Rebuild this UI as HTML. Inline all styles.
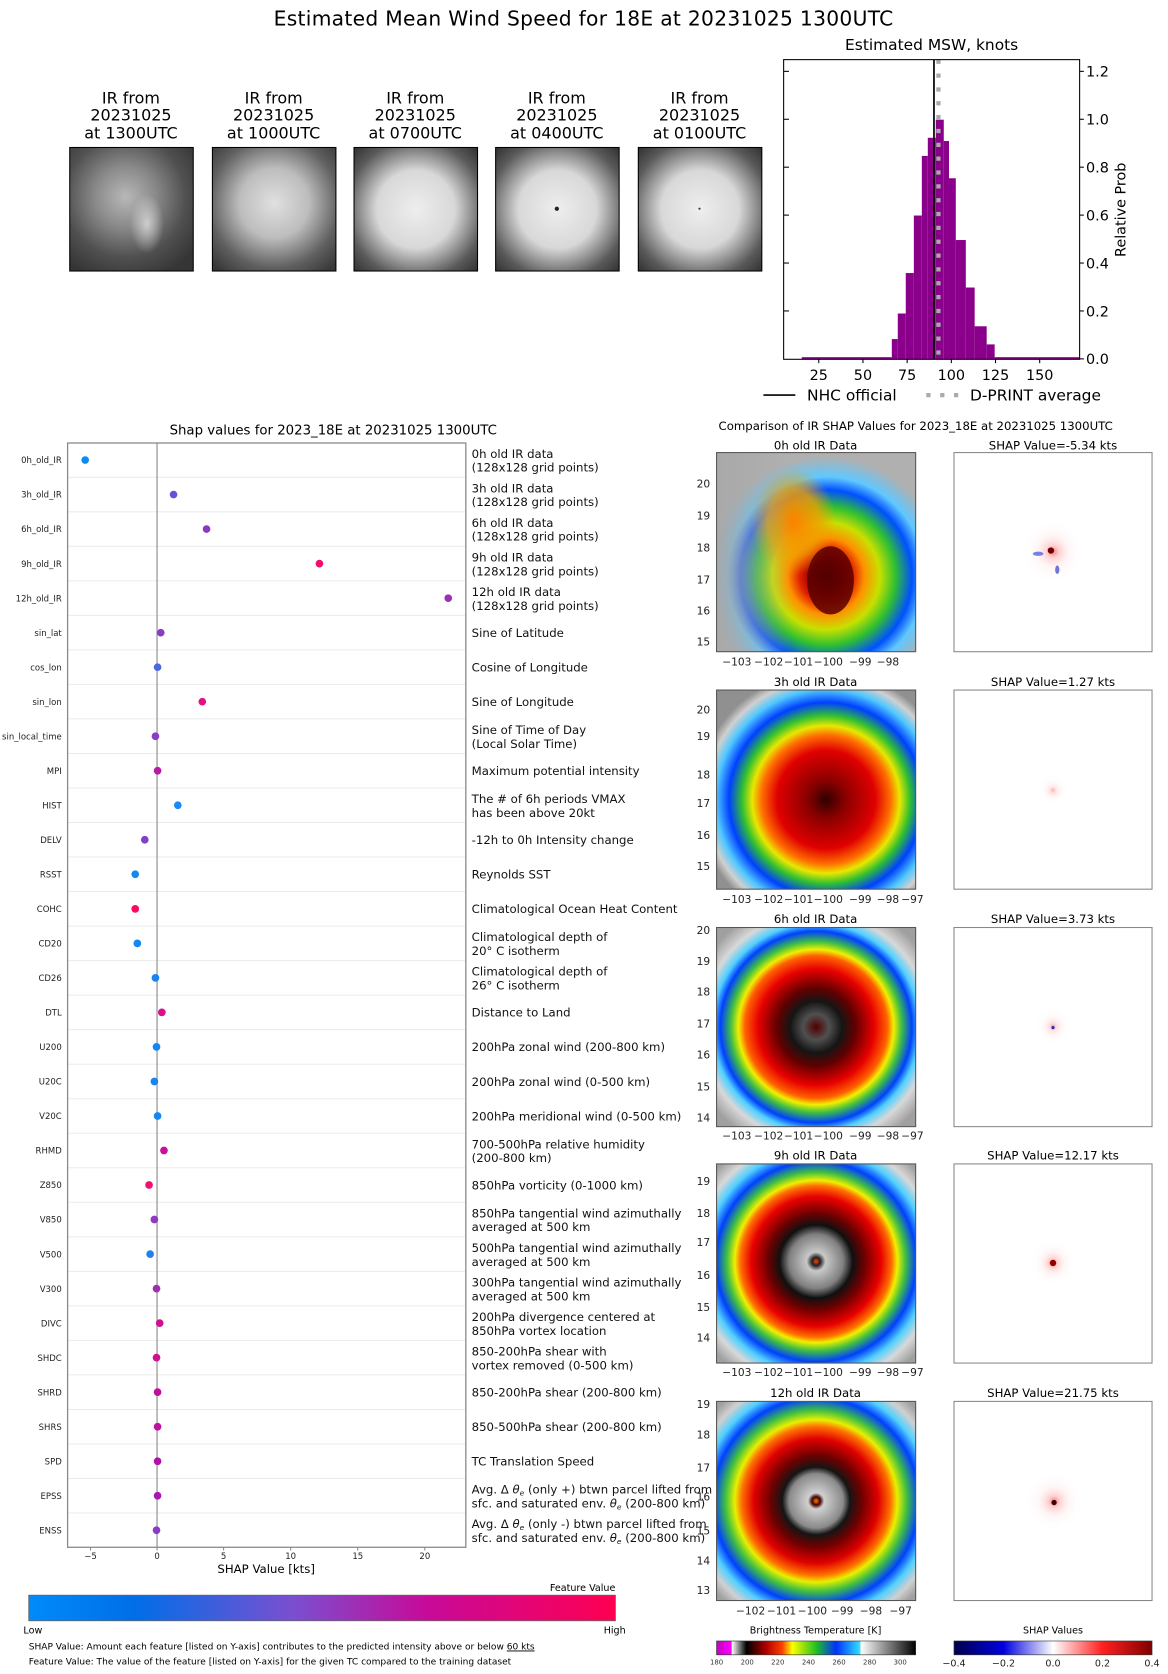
<!DOCTYPE html>
<html><head><meta charset="utf-8"><style>
html,body{margin:0;padding:0;background:#fff;}
svg{display:block;font-family:"DejaVu Sans","Liberation Sans",sans-serif;}
</style></head><body>
<svg width="1168" height="1674" viewBox="0 0 1097 1572" preserveAspectRatio="none" xmlns="http://www.w3.org/2000/svg">
<defs>
<radialGradient id="th1" cx="0.45" cy="0.4" r="0.7"><stop offset="0" stop-color="#b8b8b8"/><stop offset="0.35" stop-color="#8a8a8a"/><stop offset="0.7" stop-color="#505050"/><stop offset="1" stop-color="#353535"/></radialGradient>
<radialGradient id="th2" cx="0.5" cy="0.45" r="0.7"><stop offset="0" stop-color="#e0e0e0"/><stop offset="0.4" stop-color="#bdbdbd"/><stop offset="0.75" stop-color="#606060"/><stop offset="1" stop-color="#383838"/></radialGradient>
<radialGradient id="th3" cx="0.5" cy="0.5" r="0.7"><stop offset="0" stop-color="#eeeeee"/><stop offset="0.45" stop-color="#d8d8d8"/><stop offset="0.8" stop-color="#5a5a5a"/><stop offset="1" stop-color="#333"/></radialGradient>
<radialGradient id="blob" cx="0.5" cy="0.5" r="0.5"><stop offset="0" stop-color="#e0e0e0" stop-opacity="0.8"/><stop offset="1" stop-color="#e0e0e0" stop-opacity="0"/></radialGradient>
<radialGradient id="g0" cx="0.55" cy="0.62" r="0.6"><stop offset="0" stop-color="#200000"/><stop offset="0.12" stop-color="#8b0000"/><stop offset="0.22" stop-color="#e02000"/><stop offset="0.32" stop-color="#ff9000"/><stop offset="0.45" stop-color="#c8e000"/><stop offset="0.58" stop-color="#30c030"/><stop offset="0.72" stop-color="#0050ff"/><stop offset="0.83" stop-color="#60c8ff"/><stop offset="1" stop-color="#b0b0b0"/></radialGradient>
<radialGradient id="g0b" cx="0.5" cy="0.5" r="0.5"><stop offset="0" stop-color="#ff8000"/><stop offset="0.6" stop-color="#f0a000" stop-opacity="0.8"/><stop offset="1" stop-color="#f0a000" stop-opacity="0"/></radialGradient>
<linearGradient id="g0l" x1="0" x2="1"><stop offset="0" stop-color="#a8a8a8" stop-opacity="0.9"/><stop offset="1" stop-color="#a8a8a8" stop-opacity="0"/></linearGradient>
<radialGradient id="g3" cx="0.55" cy="0.55" r="0.65"><stop offset="0" stop-color="#300000"/><stop offset="0.15" stop-color="#8b0000"/><stop offset="0.38" stop-color="#e00000"/><stop offset="0.5" stop-color="#ff7000"/><stop offset="0.57" stop-color="#e8e800"/><stop offset="0.65" stop-color="#30c030"/><stop offset="0.75" stop-color="#0040ff"/><stop offset="0.85" stop-color="#50c8ff"/><stop offset="0.93" stop-color="#d0d0d0"/><stop offset="1" stop-color="#909090"/></radialGradient>
<radialGradient id="g6" cx="0.5" cy="0.5" r="0.65"><stop offset="0" stop-color="#500000"/><stop offset="0.1" stop-color="#505050"/><stop offset="0.2" stop-color="#151515"/><stop offset="0.3" stop-color="#600000"/><stop offset="0.45" stop-color="#e80000"/><stop offset="0.55" stop-color="#ff6000"/><stop offset="0.6" stop-color="#f0f000"/><stop offset="0.66" stop-color="#40c040"/><stop offset="0.74" stop-color="#0040ff"/><stop offset="0.8" stop-color="#50d0ff"/><stop offset="0.88" stop-color="#d8d8d8"/><stop offset="1" stop-color="#a0a0a0"/></radialGradient>
<radialGradient id="g9" cx="0.5" cy="0.49" r="0.68"><stop offset="0" stop-color="#ff4000"/><stop offset="0.03" stop-color="#202020"/><stop offset="0.07" stop-color="#c8c8c8"/><stop offset="0.2" stop-color="#808080"/><stop offset="0.27" stop-color="#101010"/><stop offset="0.36" stop-color="#700000"/><stop offset="0.48" stop-color="#e80000"/><stop offset="0.56" stop-color="#ff7000"/><stop offset="0.6" stop-color="#f0f000"/><stop offset="0.66" stop-color="#40c040"/><stop offset="0.74" stop-color="#0040ff"/><stop offset="0.82" stop-color="#50d0ff"/><stop offset="0.9" stop-color="#d8d8d8"/><stop offset="1" stop-color="#a0a0a0"/></radialGradient>
<radialGradient id="g12" cx="0.5" cy="0.5" r="0.68"><stop offset="0" stop-color="#ff8000"/><stop offset="0.03" stop-color="#400000"/><stop offset="0.06" stop-color="#d0d0d0"/><stop offset="0.2" stop-color="#8a8a8a"/><stop offset="0.25" stop-color="#151515"/><stop offset="0.34" stop-color="#700000"/><stop offset="0.46" stop-color="#e00000"/><stop offset="0.55" stop-color="#ff7000"/><stop offset="0.6" stop-color="#e8f000"/><stop offset="0.67" stop-color="#40c040"/><stop offset="0.76" stop-color="#0040ff"/><stop offset="0.84" stop-color="#50d0ff"/><stop offset="0.92" stop-color="#d0d0d0"/><stop offset="1" stop-color="#a0a0a0"/></radialGradient>
<radialGradient id="sh" cx="0.5" cy="0.5" r="0.5"><stop offset="0" stop-color="#e02020" stop-opacity="0.6"/><stop offset="0.2" stop-color="#ff8080" stop-opacity="0.35"/><stop offset="0.5" stop-color="#ffd0d0" stop-opacity="0.2"/><stop offset="1" stop-color="#fff" stop-opacity="0"/></radialGradient>
<linearGradient id="fv" x1="0" x2="1"><stop offset="0" stop-color="#008bfa"/><stop offset="0.18" stop-color="#006ee8"/><stop offset="0.45" stop-color="#7a4fd0"/><stop offset="0.68" stop-color="#c70a98"/><stop offset="1" stop-color="#ff0052"/></linearGradient>
<linearGradient id="bt" x1="0" x2="1"><stop offset="0" stop-color="#c000c0"/><stop offset="0.075" stop-color="#ff00ff"/><stop offset="0.077" stop-color="#ffffff"/><stop offset="0.15" stop-color="#000000"/><stop offset="0.25" stop-color="#b00000"/><stop offset="0.33" stop-color="#ff4000"/><stop offset="0.38" stop-color="#ffff00"/><stop offset="0.5" stop-color="#20c020"/><stop offset="0.6" stop-color="#0030ff"/><stop offset="0.72" stop-color="#30e0ff"/><stop offset="0.725" stop-color="#ffffff"/><stop offset="1" stop-color="#000000"/></linearGradient>
<linearGradient id="sc" x1="0" x2="1"><stop offset="0" stop-color="#00004a"/><stop offset="0.25" stop-color="#0000e0"/><stop offset="0.5" stop-color="#ffffff"/><stop offset="0.75" stop-color="#ff2020"/><stop offset="1" stop-color="#800000"/></linearGradient>
</defs>

<text x="548" y="24" font-size="19" text-anchor="middle" textLength="582">Estimated Mean Wind Speed for 18E at 20231025 1300UTC</text>

<g font-size="15" text-anchor="middle">
<text x="123" y="97">IR from</text><text x="123" y="113">20231025</text><text x="123" y="130">at 1300UTC</text>
<text x="257" y="97">IR from</text><text x="257" y="113">20231025</text><text x="257" y="130">at 1000UTC</text>
<text x="390" y="97">IR from</text><text x="390" y="113">20231025</text><text x="390" y="130">at 0700UTC</text>
<text x="523" y="97">IR from</text><text x="523" y="113">20231025</text><text x="523" y="130">at 0400UTC</text>
<text x="657" y="97">IR from</text><text x="657" y="113">20231025</text><text x="657" y="130">at 0100UTC</text>
</g>
<rect x="65.5" y="138.5" width="116" height="116" fill="url(#th1)" stroke="#000"/>
<ellipse cx="138" cy="210" rx="16" ry="28" fill="url(#blob)"/>
<rect x="199.5" y="138.5" width="116" height="116" fill="url(#th2)" stroke="#000"/>
<rect x="332.5" y="138.5" width="116" height="116" fill="url(#th3)" stroke="#000"/>
<rect x="465.5" y="138.5" width="116" height="116" fill="url(#th3)" stroke="#000"/>
<circle cx="523" cy="196" r="2" fill="#222"/>
<rect x="599.5" y="138.5" width="116" height="116" fill="url(#th3)" stroke="#000"/>
<circle cx="657" cy="196" r="1" fill="#333"/>

<text x="875" y="47" font-size="14.5" text-anchor="middle">Estimated MSW, knots</text>
<g fill="#8b008b">
<rect x="753" y="335.4" width="84.6" height="2"/>
<rect x="837.6" y="318.4" width="5.6" height="19"/>
<rect x="843.2" y="294.4" width="7.5" height="43"/>
<rect x="850.7" y="256.4" width="7.6" height="81"/>
<rect x="858.3" y="202.4" width="7.5" height="135"/>
<rect x="865.8" y="146.4" width="5.6" height="191"/>
<rect x="871.4" y="129.4" width="7.5" height="208"/>
<rect x="878.9" y="112.4" width="7.5" height="225"/>
<rect x="886.4" y="132.4" width="4.9" height="205"/>
<rect x="891.3" y="167.4" width="6.4" height="170"/>
<rect x="897.7" y="225.4" width="9.4" height="112"/>
<rect x="907.1" y="270" width="8.3" height="67.4"/>
<rect x="915.4" y="306.4" width="11.3" height="31"/>
<rect x="926.7" y="323.4" width="7.5" height="14"/>
<rect x="934.2" y="335.4" width="79.8" height="2"/>
</g>
<line x1="877.2" y1="56" x2="877.2" y2="337.4" stroke="#000" stroke-width="1.6"/>
<line x1="881.4" y1="56" x2="881.4" y2="337.4" stroke="#aaa" stroke-width="4" stroke-dasharray="4,9"/>
<rect x="736" y="56" width="278" height="281.4" fill="none" stroke="#000" stroke-width="1"/>
<g stroke="#000">
<line x1="736" y1="67" x2="741" y2="67"/><line x1="736" y1="112" x2="741" y2="112"/><line x1="736" y1="157" x2="741" y2="157"/><line x1="736" y1="202" x2="741" y2="202"/><line x1="736" y1="247" x2="741" y2="247"/><line x1="736" y1="292" x2="741" y2="292"/>
<line x1="1014" y1="67" x2="1018" y2="67"/><line x1="1014" y1="112" x2="1018" y2="112"/><line x1="1014" y1="157" x2="1018" y2="157"/><line x1="1014" y1="202" x2="1018" y2="202"/><line x1="1014" y1="247" x2="1018" y2="247"/><line x1="1014" y1="292" x2="1018" y2="292"/><line x1="1014" y1="337" x2="1018" y2="337"/>
<line x1="769" y1="337" x2="769" y2="341"/><line x1="810.5" y1="337" x2="810.5" y2="341"/><line x1="852" y1="337" x2="852" y2="341"/><line x1="893.5" y1="337" x2="893.5" y2="341"/><line x1="935" y1="337" x2="935" y2="341"/><line x1="976.5" y1="337" x2="976.5" y2="341"/>
</g>
<g font-size="13.5">
<text x="1020" y="342">0.0</text><text x="1020" y="297">0.2</text><text x="1020" y="252">0.4</text><text x="1020" y="207">0.6</text><text x="1020" y="162">0.8</text><text x="1020" y="117">1.0</text><text x="1020" y="72">1.2</text>
</g>
<g font-size="13.5" text-anchor="middle">
<text x="769" y="357">25</text><text x="810.5" y="357">50</text><text x="852" y="357">75</text><text x="893.5" y="357">100</text><text x="935" y="357">125</text><text x="976.5" y="357">150</text>
</g>
<text transform="translate(1057,197) rotate(-90)" font-size="13.5" text-anchor="middle">Relative Prob</text>
<line x1="717" y1="371" x2="747" y2="371" stroke="#000" stroke-width="1.6"/>
<text x="758" y="376" font-size="14.5">NHC official</text>
<line x1="870" y1="371" x2="901" y2="371" stroke="#aaa" stroke-width="4" stroke-dasharray="4,9"/>
<text x="911" y="376" font-size="14.5">D-PRINT average</text>

<text x="313" y="408" font-size="12.5" text-anchor="middle">Shap values for 2023_18E at 20231025 1300UTC</text>
<g stroke="#ebebeb" stroke-width="1">
<line x1="64" y1="448.2" x2="437" y2="448.2"/><line x1="64" y1="480.6" x2="437" y2="480.6"/><line x1="64" y1="513" x2="437" y2="513"/><line x1="64" y1="545.5" x2="437" y2="545.5"/><line x1="64" y1="577.9" x2="437" y2="577.9"/><line x1="64" y1="610.3" x2="437" y2="610.3"/><line x1="64" y1="642.7" x2="437" y2="642.7"/><line x1="64" y1="675.1" x2="437" y2="675.1"/><line x1="64" y1="707.6" x2="437" y2="707.6"/><line x1="64" y1="740" x2="437" y2="740"/><line x1="64" y1="772.4" x2="437" y2="772.4"/><line x1="64" y1="804.8" x2="437" y2="804.8"/><line x1="64" y1="837.2" x2="437" y2="837.2"/><line x1="64" y1="869.7" x2="437" y2="869.7"/><line x1="64" y1="902.1" x2="437" y2="902.1"/><line x1="64" y1="934.5" x2="437" y2="934.5"/><line x1="64" y1="966.9" x2="437" y2="966.9"/><line x1="64" y1="999.4" x2="437" y2="999.4"/><line x1="64" y1="1031.8" x2="437" y2="1031.8"/><line x1="64" y1="1064.2" x2="437" y2="1064.2"/><line x1="64" y1="1096.6" x2="437" y2="1096.6"/><line x1="64" y1="1129" x2="437" y2="1129"/><line x1="64" y1="1161.5" x2="437" y2="1161.5"/><line x1="64" y1="1193.9" x2="437" y2="1193.9"/><line x1="64" y1="1226.3" x2="437" y2="1226.3"/><line x1="64" y1="1258.7" x2="437" y2="1258.7"/><line x1="64" y1="1291.1" x2="437" y2="1291.1"/><line x1="64" y1="1323.6" x2="437" y2="1323.6"/><line x1="64" y1="1356" x2="437" y2="1356"/><line x1="64" y1="1388.4" x2="437" y2="1388.4"/><line x1="64" y1="1420.8" x2="437" y2="1420.8"/>
</g>
<line x1="147.5" y1="416" x2="147.5" y2="1453" stroke="#999" stroke-width="1.2"/>
<rect x="63.5" y="416" width="374" height="1037" fill="none" stroke="#888" stroke-width="1.2"/>
<g font-size="8" text-anchor="end" fill="#222">
<text x="58" y="435">0h_old_IR</text><text x="58" y="467.4">3h_old_IR</text><text x="58" y="499.8">6h_old_IR</text><text x="58" y="532.3">9h_old_IR</text><text x="58" y="564.7">12h_old_IR</text><text x="58" y="597.1">sin_lat</text><text x="58" y="629.5">cos_lon</text><text x="58" y="661.9">sin_lon</text><text x="58" y="694.4">sin_local_time</text><text x="58" y="726.8">MPI</text><text x="58" y="759.2">HIST</text><text x="58" y="791.6">DELV</text><text x="58" y="824">RSST</text><text x="58" y="856.5">COHC</text><text x="58" y="888.9">CD20</text><text x="58" y="921.3">CD26</text><text x="58" y="953.7">DTL</text><text x="58" y="986.1">U200</text><text x="58" y="1018.6">U20C</text><text x="58" y="1051">V20C</text><text x="58" y="1083.4">RHMD</text><text x="58" y="1115.8">Z850</text><text x="58" y="1148.2">V850</text><text x="58" y="1180.7">V500</text><text x="58" y="1213.1">V300</text><text x="58" y="1245.5">DIVC</text><text x="58" y="1277.9">SHDC</text><text x="58" y="1310.3">SHRD</text><text x="58" y="1342.8">SHRS</text><text x="58" y="1375.2">SPD</text><text x="58" y="1407.6">EPSS</text><text x="58" y="1440">ENSS</text>
</g>
<g>
<circle cx="80" cy="432" r="3.6" fill="#0a8cf5"/>
<circle cx="163" cy="464.4" r="3.6" fill="#6a50d8"/>
<circle cx="194" cy="496.8" r="3.6" fill="#8c38c0"/>
<circle cx="300" cy="529.3" r="3.6" fill="#f0106a"/>
<circle cx="421" cy="561.7" r="3.6" fill="#9a30b4"/>
<circle cx="151" cy="594.1" r="3.6" fill="#8a3cc4"/>
<circle cx="148" cy="626.5" r="3.6" fill="#4a68e0"/>
<circle cx="190" cy="658.9" r="3.6" fill="#e41280"/>
<circle cx="146" cy="691.4" r="3.6" fill="#8a3cc4"/>
<circle cx="148" cy="723.8" r="3.6" fill="#b81aa4"/>
<circle cx="167" cy="756.2" r="3.6" fill="#1a8af5"/>
<circle cx="136" cy="788.6" r="3.6" fill="#8040c8"/>
<circle cx="127" cy="821" r="3.6" fill="#1288f0"/>
<circle cx="127" cy="853.5" r="3.6" fill="#fa0a60"/>
<circle cx="129" cy="885.9" r="3.6" fill="#1288f0"/>
<circle cx="146" cy="918.3" r="3.6" fill="#1a84f0"/>
<circle cx="152" cy="950.7" r="3.6" fill="#d8108a"/>
<circle cx="147" cy="983.1" r="3.6" fill="#1288f0"/>
<circle cx="145" cy="1015.6" r="3.6" fill="#1288f0"/>
<circle cx="148" cy="1048" r="3.6" fill="#1288f0"/>
<circle cx="154" cy="1080.4" r="3.6" fill="#c8109a"/>
<circle cx="140" cy="1112.8" r="3.6" fill="#f01070"/>
<circle cx="145" cy="1145.2" r="3.6" fill="#9038c0"/>
<circle cx="141" cy="1177.7" r="3.6" fill="#2080ee"/>
<circle cx="147" cy="1210.1" r="3.6" fill="#9c30b0"/>
<circle cx="150" cy="1242.5" r="3.6" fill="#d0108e"/>
<circle cx="147" cy="1274.9" r="3.6" fill="#d0108e"/>
<circle cx="148" cy="1307.3" r="3.6" fill="#c0109e"/>
<circle cx="148" cy="1339.8" r="3.6" fill="#c0109e"/>
<circle cx="148" cy="1372.2" r="3.6" fill="#b010a8"/>
<circle cx="148" cy="1404.6" r="3.6" fill="#a818b0"/>
<circle cx="147" cy="1437" r="3.6" fill="#8a3cc8"/>
</g>
<g font-size="11" fill="#111">
<text x="443" y="430">0h old IR data</text><text x="443" y="443">(128x128 grid points)</text>
<text x="443" y="462.4">3h old IR data</text><text x="443" y="475.4">(128x128 grid points)</text>
<text x="443" y="494.8">6h old IR data</text><text x="443" y="507.8">(128x128 grid points)</text>
<text x="443" y="527.3">9h old IR data</text><text x="443" y="540.3">(128x128 grid points)</text>
<text x="443" y="559.7">12h old IR data</text><text x="443" y="572.7">(128x128 grid points)</text>
<text x="443" y="598.1">Sine of Latitude</text>
<text x="443" y="630.5">Cosine of Longitude</text>
<text x="443" y="662.9">Sine of Longitude</text>
<text x="443" y="689.4">Sine of Time of Day</text><text x="443" y="702.4">(Local Solar Time)</text>
<text x="443" y="727.8">Maximum potential intensity</text>
<text x="443" y="754.2">The # of 6h periods VMAX</text><text x="443" y="767.2">has been above 20kt</text>
<text x="443" y="792.6">-12h to 0h Intensity change</text>
<text x="443" y="825">Reynolds SST</text>
<text x="443" y="857.5">Climatological Ocean Heat Content</text>
<text x="443" y="883.9">Climatological depth of</text><text x="443" y="896.9">20° C isotherm</text>
<text x="443" y="916.3">Climatological depth of</text><text x="443" y="929.3">26° C isotherm</text>
<text x="443" y="954.7">Distance to Land</text>
<text x="443" y="987.1">200hPa zonal wind (200-800 km)</text>
<text x="443" y="1019.6">200hPa zonal wind (0-500 km)</text>
<text x="443" y="1052">200hPa meridional wind (0-500 km)</text>
<text x="443" y="1078.4">700-500hPa relative humidity</text><text x="443" y="1091.4">(200-800 km)</text>
<text x="443" y="1116.8">850hPa vorticity (0-1000 km)</text>
<text x="443" y="1143.2">850hPa tangential wind azimuthally</text><text x="443" y="1156.2">averaged at 500 km</text>
<text x="443" y="1175.7">500hPa tangential wind azimuthally</text><text x="443" y="1188.7">averaged at 500 km</text>
<text x="443" y="1208.1">300hPa tangential wind azimuthally</text><text x="443" y="1221.1">averaged at 500 km</text>
<text x="443" y="1240.5">200hPa divergence centered at</text><text x="443" y="1253.5">850hPa vortex location</text>
<text x="443" y="1272.9">850-200hPa shear with</text><text x="443" y="1285.9">vortex removed (0-500 km)</text>
<text x="443" y="1311.3">850-200hPa shear (200-800 km)</text>
<text x="443" y="1343.8">850-500hPa shear (200-800 km)</text>
<text x="443" y="1376.2">TC Translation Speed</text>
<text x="443" y="1402.6">Avg. Δ <tspan font-style="italic">θ</tspan><tspan font-size="7" font-style="italic" dy="2">e</tspan><tspan dy="-2"> (only +) btwn parcel lifted from</tspan></text><text x="443" y="1415.6">sfc. and saturated env. <tspan font-style="italic">θ</tspan><tspan font-size="7" font-style="italic" dy="2">e</tspan><tspan dy="-2"> (200-800 km)</tspan></text>
<text x="443" y="1435">Avg. Δ <tspan font-style="italic">θ</tspan><tspan font-size="7" font-style="italic" dy="2">e</tspan><tspan dy="-2"> (only -) btwn parcel lifted from</tspan></text><text x="443" y="1448">sfc. and saturated env. <tspan font-style="italic">θ</tspan><tspan font-size="7" font-style="italic" dy="2">e</tspan><tspan dy="-2"> (200-800 km)</tspan></text>
</g>
<g stroke="#888"><line x1="85" y1="1453" x2="85" y2="1456"/><line x1="147.5" y1="1453" x2="147.5" y2="1456"/><line x1="210" y1="1453" x2="210" y2="1456"/><line x1="273" y1="1453" x2="273" y2="1456"/><line x1="336" y1="1453" x2="336" y2="1456"/><line x1="399" y1="1453" x2="399" y2="1456"/></g>
<g font-size="8" text-anchor="middle" fill="#222"><text x="85" y="1464">−5</text><text x="147.5" y="1464">0</text><text x="210" y="1464">5</text><text x="273" y="1464">10</text><text x="336" y="1464">15</text><text x="399" y="1464">20</text></g>
<text x="250" y="1477" font-size="11" text-anchor="middle">SHAP Value [kts]</text>
<text x="578" y="1494" font-size="9" text-anchor="end">Feature Value</text>
<rect x="27" y="1498" width="551" height="24" fill="url(#fv)" stroke="#666" stroke-width="0.8"/>
<text x="22" y="1534" font-size="9">Low</text><text x="567" y="1534" font-size="9">High</text>
<text x="27" y="1549" font-size="8.5">SHAP Value: Amount each feature [listed on Y-axis] contributes to the predicted intensity above or below <tspan text-decoration="underline">60 kts</tspan></text>
<text x="27" y="1563" font-size="8.5">Feature Value: The value of the feature [listed on Y-axis] for the given TC compared to the training dataset</text>

<text x="860" y="404" font-size="11" text-anchor="middle">Comparison of IR SHAP Values for 2023_18E at 20231025 1300UTC</text>
<g font-size="11" text-anchor="middle">
<text x="766" y="422">0h old IR Data</text><text x="989" y="422">SHAP Value=-5.34 kts</text>
<text x="766" y="644">3h old IR Data</text><text x="989" y="644">SHAP Value=1.27 kts</text>
<text x="766" y="867">6h old IR Data</text><text x="989" y="867">SHAP Value=3.73 kts</text>
<text x="766" y="1089">9h old IR Data</text><text x="989" y="1089">SHAP Value=12.17 kts</text>
<text x="766" y="1312">12h old IR Data</text><text x="989" y="1312">SHAP Value=21.75 kts</text>
</g>
<rect x="673" y="425" width="187" height="187" fill="url(#g0)"/>
<ellipse cx="745" cy="490" rx="40" ry="50" fill="url(#g0b)"/>
<ellipse cx="780" cy="545" rx="22" ry="32" fill="#5a0000" opacity="0.85"/>
<rect x="673" y="425" width="70" height="187" fill="url(#g0l)"/>
<rect x="673" y="648" width="187" height="187" fill="url(#g3)"/>
<rect x="673" y="871" width="187" height="187" fill="url(#g6)"/>
<rect x="673" y="1093" width="187" height="187" fill="url(#g9)"/>
<rect x="673" y="1316" width="187" height="187" fill="url(#g12)"/>
<g fill="none" stroke="#555"><rect x="673" y="425" width="187" height="187"/><rect x="673" y="648" width="187" height="187"/><rect x="673" y="871" width="187" height="187"/><rect x="673" y="1093" width="187" height="187"/><rect x="673" y="1316" width="187" height="187"/></g>
<g stroke="#888" fill="#fff"><rect x="896" y="425" width="186" height="187"/><rect x="896" y="648" width="186" height="187"/><rect x="896" y="871" width="186" height="187"/><rect x="896" y="1093" width="186" height="187"/><rect x="896" y="1316" width="186" height="187"/></g>
<circle cx="989" cy="518" r="30" fill="url(#sh)"/><circle cx="987" cy="517" r="3" fill="#700000"/><ellipse cx="975" cy="520" rx="5" ry="2" fill="#4050e0" opacity="0.7"/><ellipse cx="993" cy="535" rx="2" ry="4" fill="#3040d0" opacity="0.7"/>
<circle cx="989" cy="742" r="15" fill="url(#sh)" opacity="0.6"/>
<circle cx="989" cy="964" r="18" fill="url(#sh)" opacity="0.7"/><circle cx="989" cy="965" r="1.5" fill="#2030c0"/>
<circle cx="989" cy="1186" r="22" fill="url(#sh)"/><circle cx="989" cy="1186" r="3" fill="#900000"/>
<circle cx="990" cy="1410" r="28" fill="url(#sh)"/><circle cx="990" cy="1411" r="2.5" fill="#400000"/>
<g font-size="10" text-anchor="end" fill="#222">
<text x="667" y="458">20</text><text x="667" y="488">19</text><text x="667" y="518">18</text><text x="667" y="548">17</text><text x="667" y="577">16</text><text x="667" y="606">15</text>
<text x="667" y="670">20</text><text x="667" y="695">19</text><text x="667" y="731">18</text><text x="667" y="758">17</text><text x="667" y="788">16</text><text x="667" y="817">15</text>
<text x="667" y="877">20</text><text x="667" y="906">19</text><text x="667" y="935">18</text><text x="667" y="965">17</text><text x="667" y="994">16</text><text x="667" y="1024">15</text><text x="667" y="1053">14</text>
<text x="667" y="1113">19</text><text x="667" y="1143">18</text><text x="667" y="1170">17</text><text x="667" y="1201">16</text><text x="667" y="1231">15</text><text x="667" y="1260">14</text>
<text x="667" y="1322">19</text><text x="667" y="1351">18</text><text x="667" y="1382">17</text><text x="667" y="1409">16</text><text x="667" y="1441">15</text><text x="667" y="1469">14</text><text x="667" y="1497">13</text>
</g>
<g font-size="10" text-anchor="middle" fill="#222">
<text x="692" y="625">−103</text><text x="722" y="625">−102</text><text x="750" y="625">−101</text><text x="778" y="625">−100</text><text x="808" y="625">−99</text><text x="834" y="625">−98</text>
<text x="692" y="848">−103</text><text x="722" y="848">−102</text><text x="750" y="848">−101</text><text x="778" y="848">−100</text><text x="808" y="848">−99</text><text x="834" y="848">−98</text><text x="857" y="848">−97</text>
<text x="692" y="1070">−103</text><text x="722" y="1070">−102</text><text x="750" y="1070">−101</text><text x="778" y="1070">−100</text><text x="808" y="1070">−99</text><text x="834" y="1070">−98</text><text x="857" y="1070">−97</text>
<text x="692" y="1292">−103</text><text x="722" y="1292">−102</text><text x="750" y="1292">−101</text><text x="778" y="1292">−100</text><text x="808" y="1292">−99</text><text x="834" y="1292">−98</text><text x="857" y="1292">−97</text>
<text x="705" y="1516">−102</text><text x="734" y="1516">−101</text><text x="763" y="1516">−100</text><text x="791" y="1516">−99</text><text x="818" y="1516">−98</text><text x="846" y="1516">−97</text>
</g>
<text x="766" y="1534" font-size="9" text-anchor="middle">Brightness Temperature [K]</text>
<rect x="673" y="1541" width="187" height="13" fill="url(#bt)" stroke="#333" stroke-width="0.6"/>
<g font-size="6.5" text-anchor="middle" fill="#333"><text x="673" y="1563">180</text><text x="701.8" y="1563">200</text><text x="730.5" y="1563">220</text><text x="759.3" y="1563">240</text><text x="788" y="1563">260</text><text x="816.8" y="1563">280</text><text x="845.5" y="1563">300</text></g>
<text x="989" y="1534" font-size="9" text-anchor="middle">SHAP Values</text>
<rect x="896" y="1541" width="186" height="13" fill="url(#sc)" stroke="#333" stroke-width="0.6"/>
<g font-size="9" text-anchor="middle" fill="#222"><text x="896" y="1565">−0.4</text><text x="942.5" y="1565">−0.2</text><text x="989" y="1565">0.0</text><text x="1035.5" y="1565">0.2</text><text x="1082" y="1565">0.4</text></g>
</svg>
</body></html>
